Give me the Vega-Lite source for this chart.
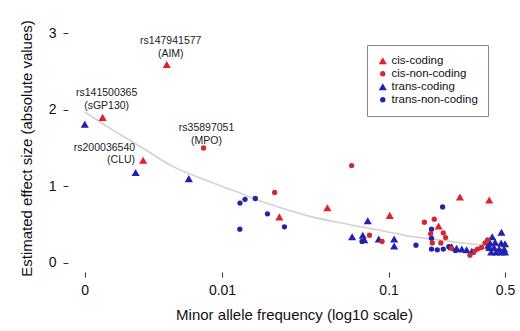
{
  "$schema": "https://vega.github.io/schema/vega-lite/v6.json",
  "autosize": "none",
  "width": 452,
  "height": 248,
  "padding": {"left": 68, "top": 24, "right": 0, "bottom": 59},
  "background": "white",
  "config": {
    "view": {"stroke": null},
    "font": "Liberation Sans",
    "axis": {"grid": false, "domain": false, "tickColor": "#333", "tickSize": 5, "labelColor": "#111", "titleColor": "#111", "labelFont": "Liberation Sans", "titleFont": "Liberation Sans", "labelFontSize": 14, "titleFontSize": 15, "titleFontWeight": "normal"}
  },
  "datasets": {
    "pts": [
      {"maf": 0.0015, "effect": 1.81, "type": "trans-coding"},
      {"maf": 0.00192, "effect": 1.90, "type": "cis-coding", "label": "rs141500365\n(sGP130)"},
      {"maf": 0.00336, "effect": 1.34, "type": "cis-coding", "label": "rs200036540\n(CLU)"},
      {"maf": 0.00303, "effect": 1.18, "type": "trans-coding"},
      {"maf": 0.00632, "effect": 1.10, "type": "trans-coding"},
      {"maf": 0.00775, "effect": 1.50, "type": "cis-non-coding", "label": "rs35897051\n(MPO)"},
      {"maf": 0.00466, "effect": 2.59, "type": "cis-coding", "label": "rs147941577\n(AIM)"},
      {"maf": 0.01375, "effect": 0.83, "type": "trans-non-coding"},
      {"maf": 0.01585, "effect": 0.84, "type": "trans-non-coding"},
      {"maf": 0.01282, "effect": 0.78, "type": "trans-non-coding"},
      {"maf": 0.01875, "effect": 0.64, "type": "trans-non-coding"},
      {"maf": 0.0237, "effect": 0.47, "type": "trans-non-coding"},
      {"maf": 0.0128, "effect": 0.44, "type": "trans-non-coding"},
      {"maf": 0.0750, "effect": 0.55, "type": "trans-coding"},
      {"maf": 0.0604, "effect": 0.34, "type": "trans-coding"},
      {"maf": 0.0700, "effect": 0.36, "type": "trans-coding"},
      {"maf": 0.0715, "effect": 0.30, "type": "trans-coding"},
      {"maf": 0.0693, "effect": 0.28, "type": "trans-non-coding"},
      {"maf": 0.0873, "effect": 0.31, "type": "trans-coding"},
      {"maf": 0.108, "effect": 0.31, "type": "trans-coding"},
      {"maf": 0.108, "effect": 0.22, "type": "trans-coding"},
      {"maf": 0.146, "effect": 0.23, "type": "trans-non-coding"},
      {"maf": 0.211, "effect": 0.73, "type": "trans-non-coding"},
      {"maf": 0.181, "effect": 0.44, "type": "trans-non-coding"},
      {"maf": 0.181, "effect": 0.32, "type": "trans-non-coding"},
      {"maf": 0.181, "effect": 0.18, "type": "trans-non-coding"},
      {"maf": 0.196, "effect": 0.17, "type": "trans-non-coding"},
      {"maf": 0.213, "effect": 0.18, "type": "trans-non-coding"},
      {"maf": 0.230, "effect": 0.21, "type": "trans-non-coding"},
      {"maf": 0.252, "effect": 0.16, "type": "trans-non-coding"},
      {"maf": 0.476, "effect": 0.40, "type": "trans-coding"},
      {"maf": 0.419, "effect": 0.34, "type": "trans-coding"},
      {"maf": 0.239, "effect": 0.21, "type": "trans-coding"},
      {"maf": 0.256, "effect": 0.19, "type": "trans-coding"},
      {"maf": 0.275, "effect": 0.18, "type": "trans-coding"},
      {"maf": 0.294, "effect": 0.17, "type": "trans-coding"},
      {"maf": 0.316, "effect": 0.15, "type": "trans-coding"},
      {"maf": 0.407, "effect": 0.26, "type": "trans-coding"},
      {"maf": 0.436, "effect": 0.27, "type": "trans-coding"},
      {"maf": 0.474, "effect": 0.26, "type": "trans-coding"},
      {"maf": 0.500, "effect": 0.25, "type": "trans-coding"},
      {"maf": 0.402, "effect": 0.20, "type": "trans-coding"},
      {"maf": 0.430, "effect": 0.20, "type": "trans-coding"},
      {"maf": 0.461, "effect": 0.18, "type": "trans-coding"},
      {"maf": 0.494, "effect": 0.18, "type": "trans-coding"},
      {"maf": 0.413, "effect": 0.14, "type": "trans-coding"},
      {"maf": 0.442, "effect": 0.14, "type": "trans-coding"},
      {"maf": 0.474, "effect": 0.14, "type": "trans-coding"},
      {"maf": 0.500, "effect": 0.14, "type": "trans-coding"},
      {"maf": 0.396, "effect": 0.23, "type": "trans-coding"},
      {"maf": 0.0207, "effect": 0.92, "type": "cis-non-coding"},
      {"maf": 0.0221, "effect": 0.60, "type": "cis-coding"},
      {"maf": 0.060, "effect": 1.27, "type": "cis-non-coding"},
      {"maf": 0.0429, "effect": 0.72, "type": "cis-coding"},
      {"maf": 0.1016, "effect": 0.62, "type": "cis-coding"},
      {"maf": 0.0768, "effect": 0.36, "type": "cis-non-coding"},
      {"maf": 0.0914, "effect": 0.28, "type": "cis-non-coding"},
      {"maf": 0.268, "effect": 0.86, "type": "cis-coding"},
      {"maf": 0.402, "effect": 0.82, "type": "cis-coding"},
      {"maf": 0.164, "effect": 0.53, "type": "cis-non-coding"},
      {"maf": 0.188, "effect": 0.57, "type": "cis-non-coding"},
      {"maf": 0.1995, "effect": 0.48, "type": "cis-coding"},
      {"maf": 0.179, "effect": 0.38, "type": "cis-non-coding"},
      {"maf": 0.213, "effect": 0.39, "type": "cis-non-coding"},
      {"maf": 0.220, "effect": 0.33, "type": "cis-non-coding"},
      {"maf": 0.183, "effect": 0.26, "type": "cis-non-coding"},
      {"maf": 0.206, "effect": 0.26, "type": "cis-non-coding"},
      {"maf": 0.238, "effect": 0.19, "type": "cis-non-coding"},
      {"maf": 0.308, "effect": 0.10, "type": "cis-non-coding"},
      {"maf": 0.327, "effect": 0.15, "type": "cis-non-coding"},
      {"maf": 0.342, "effect": 0.18, "type": "cis-non-coding"},
      {"maf": 0.361, "effect": 0.20, "type": "cis-non-coding"},
      {"maf": 0.379, "effect": 0.26, "type": "cis-non-coding"},
      {"maf": 0.393, "effect": 0.30, "type": "cis-non-coding"}
    ],
    "fit": [
      {"maf": 0.0015, "effect": 1.97},
      {"maf": 0.00212, "effect": 1.76},
      {"maf": 0.00334, "effect": 1.50},
      {"maf": 0.00485, "effect": 1.28},
      {"maf": 0.00733, "effect": 1.11},
      {"maf": 0.01154, "effect": 0.95},
      {"maf": 0.0184, "effect": 0.78},
      {"maf": 0.0333, "effect": 0.61},
      {"maf": 0.0578, "effect": 0.50},
      {"maf": 0.0910, "effect": 0.42},
      {"maf": 0.1318, "effect": 0.35},
      {"maf": 0.1994, "effect": 0.30},
      {"maf": 0.301, "effect": 0.25},
      {"maf": 0.488, "effect": 0.22}
    ]
  },
  "layer": [
    {
      "data": {"name": "fit"},
      "mark": {"type": "line", "color": "#d2d2d2", "strokeWidth": 1.6, "interpolate": "monotone"},
      "encoding": {
        "x": {"field": "maf", "type": "quantitative", "scale": {"type": "log", "domain": [0.00119, 0.615], "nice": false}},
        "y": {"field": "effect", "type": "quantitative"}
      }
    },
    {
      "data": {"name": "pts"},
      "mark": {"type": "point", "filled": true, "opacity": 1},
      "encoding": {
        "x": {"field": "maf", "type": "quantitative",
              "scale": {"type": "log", "domain": [0.00119, 0.615], "nice": false},
              "axis": {"title": "Minor allele frequency (log10 scale)", "values": [0.0015, 0.01, 0.1, 0.5], "labelExpr": "datum.value < 0.005 ? '0' : format(datum.value, '~g')", "labelPadding": 6, "titlePadding": 10}},
        "y": {"field": "effect", "type": "quantitative",
              "scale": {"domain": [-0.12, 3.12], "nice": false, "zero": false},
              "axis": {"title": "Estimated effect size (absolute values)", "values": [0, 1, 2, 3], "format": "d", "labelPadding": 7, "titlePadding": 14}},
        "color": {"field": "type", "type": "nominal",
                  "scale": {"domain": ["cis-coding", "cis-non-coding", "trans-coding", "trans-non-coding"], "range": ["#e3202a", "#cf2a30", "#2222b0", "#2222b0"]},
                  "legend": {"title": null, "orient": "none", "legendX": 299, "legendY": 21, "padding": 10, "strokeColor": "#8a8a8a", "fillColor": "white", "labelFontSize": 11.5, "labelFont": "Liberation Sans", "labelColor": "#111", "rowPadding": 0, "symbolSize": 30, "labelOffset": 3}},
        "shape": {"field": "type", "type": "nominal",
                  "scale": {"domain": ["cis-coding", "cis-non-coding", "trans-coding", "trans-non-coding"], "range": ["triangle-up", "circle", "triangle-up", "circle"]}},
        "size": {"field": "type", "type": "nominal", "legend": null,
                 "scale": {"type": "ordinal", "domain": ["cis-coding", "cis-non-coding", "trans-coding", "trans-non-coding"], "range": [66, 28, 66, 28]}}
      }
    },
    {
      "data": {"name": "pts"},
      "transform": [{"filter": "datum.label && (indexof(datum.label, 'AIM') >= 0 || indexof(datum.label, 'sGP130') >= 0)"}],
      "mark": {"type": "text", "fontSize": 10.5, "font": "Liberation Sans", "color": "#222", "baseline": "bottom", "align": "center", "lineBreak": "\n", "lineHeight": 13, "dy": -19, "dx": 4},
      "encoding": {
        "x": {"field": "maf", "type": "quantitative"},
        "y": {"field": "effect", "type": "quantitative"},
        "text": {"field": "label"}
      }
    },
    {
      "data": {"name": "pts"},
      "transform": [{"filter": "datum.label && indexof(datum.label, 'MPO') >= 0"}],
      "mark": {"type": "text", "fontSize": 10.5, "font": "Liberation Sans", "color": "#222", "baseline": "bottom", "align": "center", "lineBreak": "\n", "lineHeight": 13, "dy": -15, "dx": 3},
      "encoding": {
        "x": {"field": "maf", "type": "quantitative"},
        "y": {"field": "effect", "type": "quantitative"},
        "text": {"field": "label"}
      }
    },
    {
      "data": {"name": "pts"},
      "transform": [{"filter": "datum.label && indexof(datum.label, 'CLU') >= 0"}],
      "mark": {"type": "text", "fontSize": 10.5, "font": "Liberation Sans", "color": "#222", "baseline": "bottom", "align": "right", "lineBreak": "\n", "lineHeight": 12, "dy": -7, "dx": -8},
      "encoding": {
        "x": {"field": "maf", "type": "quantitative"},
        "y": {"field": "effect", "type": "quantitative"},
        "text": {"field": "label"}
      }
    },
    {
      "mark": {"type": "rule", "color": "#333", "strokeWidth": 1},
      "encoding": {"x": {"datum": 0.0015}, "x2": {"datum": 0.5}, "y": {"datum": -0.12}}
    },
    {
      "mark": {"type": "rule", "color": "#333", "strokeWidth": 1},
      "encoding": {"x": {"datum": 0.00119}, "y": {"datum": 0}, "y2": {"datum": 3}}
    }
  ]
}
